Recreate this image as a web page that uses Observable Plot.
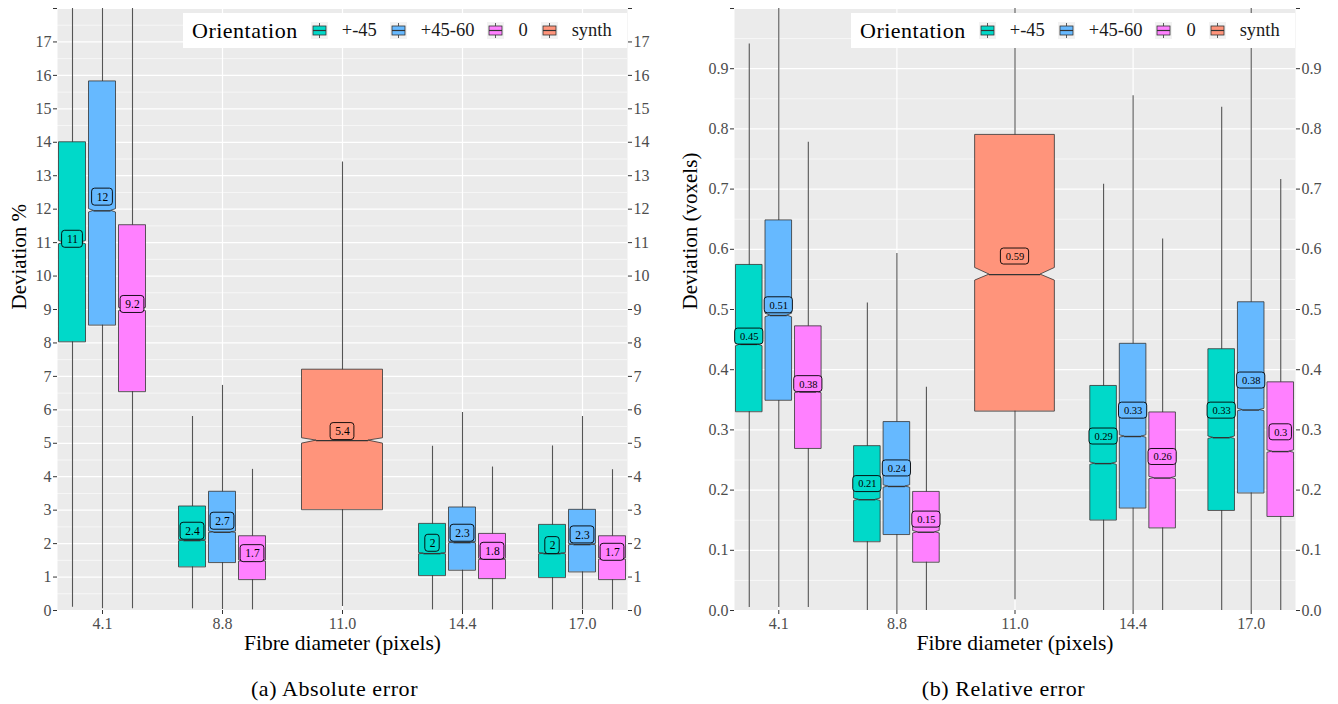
<!DOCTYPE html>
<html>
<head>
<meta charset="utf-8">
<script src="https://cdn.jsdelivr.net/npm/d3@7"></script>
<script src="https://cdn.jsdelivr.net/npm/@observablehq/plot@0.6"></script>
<style>
  body { margin: 0; background: #fff; font-family: "Liberation Serif", serif; }
  #wrap { position: relative; width: 1338px; height: 704px; overflow: hidden; }
  .fig { position: absolute; top: 0; width: 669px; height: 704px; }
  .fig svg { display: block; }
  .cap { position: absolute; top: 675px; left: 0; width: 669px; text-align: center; font-size: 22px; letter-spacing: 0.6px; color: #000; line-height: 28px; }
  .legend { position: absolute; top: 13px; height: 35px; width: 444px; background: #fff; display: flex; align-items: center; box-sizing: border-box; padding-left: 9px; }
  .legend .lt { font-size: 22px; letter-spacing: 0.5px; color: #000; margin-right: 13px; }
  .legend .key { width: 17px; height: 17px; display: inline-block; margin-right: 14px; }
  .legend .lab { font-size: 18.5px; color: #1a1a1a; margin-right: 13px; }
</style>
</head>
<body>
<div id="wrap">
  <div class="fig" id="figA" style="left:0px"></div>
  <div class="fig" id="figB" style="left:669px"></div>
</div>
<script>
// ---------- categories ----------
const diameters = ["4.1", "8.8", "11.0", "14.4", "17.0"];
const orientations = ["+-45", "+45-60", "0", "synth"];
const orientationColors = ["#00D9C9", "#66B9FF", "#FF80FF", "#FF947B"];

const boxDiameter = ["4.1","4.1","4.1","8.8","8.8","8.8","11.0","14.4","14.4","14.4","17.0","17.0","17.0"];
const boxOrientation = ["+-45","+45-60","0","+-45","+45-60","0","synth","+-45","+45-60","0","+-45","+45-60","0"];

// ---------- (a) Absolute error : Deviation % ----------
const absLow       = [0.10, 0.05, 0.05, 0.05, 0.03, 0.02, 0.12, 0.02, 0.00, 0.02, 0.02, 0.02, 0.02];
const absQ1        = [8.03, 8.53, 6.54, 1.30, 1.43, 0.92, 3.01, 1.04, 1.20, 0.95, 0.98, 1.15, 0.92];
const absNotchLo   = [10.95, 11.90, 8.95, 2.07, 2.32, 1.46, 4.99, 1.68, 2.01, 1.51, 1.68, 1.95, 1.52];
const absMedian    = [11.00, 11.95, 9.00, 2.09, 2.34, 1.48, 5.08, 1.70, 2.03, 1.53, 1.70, 1.97, 1.54];
const absNotchHi   = [11.05, 12.00, 9.05, 2.11, 2.36, 1.50, 5.15, 1.72, 2.05, 1.55, 1.72, 1.99, 1.56];
const absQ3        = [14.00, 15.82, 11.52, 3.11, 3.55, 2.22, 7.20, 2.59, 3.08, 2.29, 2.56, 3.01, 2.22];
const absHigh      = [19.50, 19.50, 19.50, 5.80, 6.73, 4.22, 13.41, 4.91, 5.92, 4.29, 4.92, 5.80, 4.21];
const absMean      = [11.10, 12.36, 9.15, 2.37, 2.67, 1.70, 5.35, 2.01, 2.31, 1.77, 1.94, 2.26, 1.74];
const absMeanLabel = ["11","12","9.2","2.4","2.7","1.7","5.4","2","2.3","1.8","2","2.3","1.7"];
const absYTicks = d3.range(0, 19);
const absYMinor = d3.range(0.5, 18, 1);

// ---------- (b) Relative error : Deviation (voxels) ----------
const relLow       = [0.005, 0.005, 0.005, 0.000, 0.000, 0.000, 0.018, 0.000, 0.000, 0.000, 0.000, 0.000, 0.000];
const relQ1        = [0.330, 0.349, 0.269, 0.114, 0.126, 0.080, 0.331, 0.150, 0.170, 0.137, 0.166, 0.195, 0.156];
const relNotchLo   = [0.439, 0.487, 0.361, 0.182, 0.204, 0.128, 0.548, 0.242, 0.287, 0.218, 0.285, 0.331, 0.262];
const relMedian    = [0.442, 0.490, 0.363, 0.184, 0.206, 0.130, 0.558, 0.244, 0.289, 0.220, 0.287, 0.333, 0.264];
const relNotchHi   = [0.444, 0.493, 0.365, 0.186, 0.208, 0.132, 0.569, 0.246, 0.291, 0.222, 0.289, 0.335, 0.266];
const relQ3        = [0.574, 0.648, 0.472, 0.273, 0.313, 0.197, 0.790, 0.373, 0.443, 0.329, 0.434, 0.512, 0.379];
const relHigh      = [0.941, 1.100, 0.778, 0.511, 0.593, 0.371, 1.100, 0.708, 0.855, 0.617, 0.836, 1.100, 0.716];
const relMean      = [0.455, 0.507, 0.376, 0.210, 0.236, 0.151, 0.588, 0.289, 0.332, 0.255, 0.332, 0.382, 0.296];
const relMeanLabel = ["0.45","0.51","0.38","0.21","0.24","0.15","0.59","0.29","0.33","0.26","0.33","0.38","0.3"];
const relYTicks = d3.range(0, 11).map(i => i / 10);
const relYMinor = d3.range(0, 10).map(i => (2 * i + 1) / 20);

// dodge layout
const dodgeOffset = {"+-45": -0.25, "+45-60": 0, "0": 0.25, "synth": 0};

function makePanel(cfg) {
  const boxes = boxDiameter.map((dia, i) => {
    const o = boxOrientation[i];
    const c = diameters.indexOf(dia) + dodgeOffset[o];
    const w = o === "synth" ? 0.675 : 0.225;
    const lab = cfg.label[i];
    const digits = lab.replace(".", "").length, dots = lab.length - digits;
    return {
      id: i, orient: o, center: c, left: c - w / 2, right: c + w / 2, ind: w * 0.18,
      low: cfg.low[i], q1: cfg.q1[i], nlo: cfg.nlo[i], med: cfg.med[i], nhi: cfg.nhi[i],
      q3: cfg.q3[i], high: cfg.high[i], mean: cfg.mean[i], label: lab,
      hw: (digits * cfg.charW + dots * cfg.dotW + 8) / 2
    };
  });
  const outline = boxes.flatMap(b => [
    {id: b.id, orient: b.orient, y: b.q1,  x1: b.left,         x2: b.right},
    {id: b.id, orient: b.orient, y: b.nlo, x1: b.left,         x2: b.right},
    {id: b.id, orient: b.orient, y: b.med, x1: b.left + b.ind, x2: b.right - b.ind},
    {id: b.id, orient: b.orient, y: b.nhi, x1: b.left,         x2: b.right},
    {id: b.id, orient: b.orient, y: b.q3,  x1: b.left,         x2: b.right}
  ]);
  const hh = cfg.labelH / 2;
  const labelRects = boxes.map(b => Plot.rect([b], {
    x1: "center", x2: "center", y1: "mean", y2: "mean",
    insetLeft: -b.hw, insetRight: -b.hw, insetTop: -hh, insetBottom: -hh,
    rx: 3, fill: "orient", stroke: "#000", strokeWidth: 0.9
  }));
  return Plot.plot({
    width: 669, height: 660,
    marginLeft: cfg.marginLeft, marginRight: cfg.marginRight, marginTop: 8, marginBottom: 50,
    x: {type: "linear", domain: [-0.375, 4.375]},
    y: {domain: cfg.domain},
    color: {domain: orientations, range: orientationColors},
    style: {fontFamily: "Liberation Serif", fontSize: "16px", background: "transparent", overflow: "visible"},
    marks: [
      Plot.frame({fill: "#EBEBEB", stroke: "none"}),
      Plot.gridY(cfg.minor, {stroke: "#fff", strokeOpacity: 1, strokeWidth: 0.6}),
      Plot.gridY(cfg.ticks, {stroke: "#fff", strokeOpacity: 1, strokeWidth: 1.2}),
      Plot.gridX([0, 1, 2, 3, 4], {stroke: "#fff", strokeOpacity: 1, strokeWidth: 1.2}),
      Plot.ruleX(boxes, {x: "center", y1: "low", y2: "high", stroke: "#555", strokeWidth: 1.1, clip: true}),
      Plot.areaX(outline, {y: "y", x1: "x1", x2: "x2", z: "id", fill: "orient", stroke: "#333", strokeWidth: 0.8, curve: "linear"}),
      Plot.ruleY(boxes, {y: "med", x1: b => b.left + b.ind, x2: b => b.right - b.ind, stroke: "#333", strokeWidth: 1.4}),
      ...labelRects,
      Plot.text(boxes, {x: "center", y: "mean", text: "label", fontSize: cfg.labelFont, fill: "#000"}),
      Plot.axisX([0, 1, 2, 3, 4], {tickFormat: i => diameters[i], tickSize: 4, tickPadding: 3, fontSize: 16, color: "#4d4d4d", stroke: "#333", label: null}),
      Plot.axisY(cfg.ticks, {anchor: "left", tickFormat: cfg.fmt, tickSize: 4, tickPadding: 2, fontSize: 16, color: "#4d4d4d", stroke: "#333", label: null}),
      Plot.axisY(cfg.ticks, {anchor: "right", tickFormat: cfg.fmt, tickSize: 4, tickPadding: 2, fontSize: 16, color: "#4d4d4d", stroke: "#333", label: null}),
      Plot.text([cfg.xTitle], {frameAnchor: "bottom", dy: 39, fontSize: 21.5, fill: "#000", style: "letter-spacing:0.8px"}),
      Plot.text([cfg.yTitle], {frameAnchor: "left", dx: cfg.yTitleDx, rotate: -90, fontSize: 21, fill: "#000"})
    ]
  });
}

function makeLegend(left) {
  const div = document.createElement("div");
  div.className = "legend";
  div.style.left = left + "px";
  let html = '<span class="lt">Orientation</span>';
  orientations.forEach((o, i) => {
    html += '<svg class="key" viewBox="0 0 17 17"><rect width="17" height="17" fill="#F2F2F2"/>' +
      '<line x1="8.5" x2="8.5" y1="1" y2="16" stroke="#333" stroke-width="0.8"/>' +
      '<rect x="2" y="4" width="13" height="9" fill="' + orientationColors[i] + '" stroke="#333" stroke-width="0.8"/>' +
      '<line x1="2" x2="15" y1="8.5" y2="8.5" stroke="#333" stroke-width="1.2"/></svg>' +
      '<span class="lab">' + o + '</span>';
  });
  div.innerHTML = html;
  return div;
}

const figA = document.getElementById("figA");
figA.append(makePanel({
  low: absLow, q1: absQ1, nlo: absNotchLo, med: absMedian, nhi: absNotchHi, q3: absQ3, high: absHigh,
  mean: absMean, label: absMeanLabel, domain: [0, 18], ticks: absYTicks, minor: absYMinor,
  fmt: d => d === 18 ? "" : String(d), marginLeft: 57, marginRight: 42,
  charW: 6.4, dotW: 3, labelH: 17, labelFont: 11.5,
  xTitle: "Fibre diameter (pixels)", yTitle: "Deviation %", yTitleDx: -38
}));
figA.append(makeLegend(183));
const capA = document.createElement("div"); capA.className = "cap"; capA.textContent = "(a) Absolute error"; figA.append(capA);

const figB = document.getElementById("figB");
figB.append(makePanel({
  low: relLow, q1: relQ1, nlo: relNotchLo, med: relMedian, nhi: relNotchHi, q3: relQ3, high: relHigh,
  mean: relMean, label: relMeanLabel, domain: [0, 1], ticks: relYTicks, minor: relYMinor,
  fmt: d => d >= 1 ? "" : d.toFixed(1), marginLeft: 65, marginRight: 43,
  charW: 5.8, dotW: 2.8, labelH: 16, labelFont: 10.5,
  xTitle: "Fibre diameter (pixels)", yTitle: "Deviation (voxels)", yTitleDx: -44
}));
figB.append(makeLegend(182));
const capB = document.createElement("div"); capB.className = "cap"; capB.textContent = "(b) Relative error"; figB.append(capB);
</script>
</body>
</html>
